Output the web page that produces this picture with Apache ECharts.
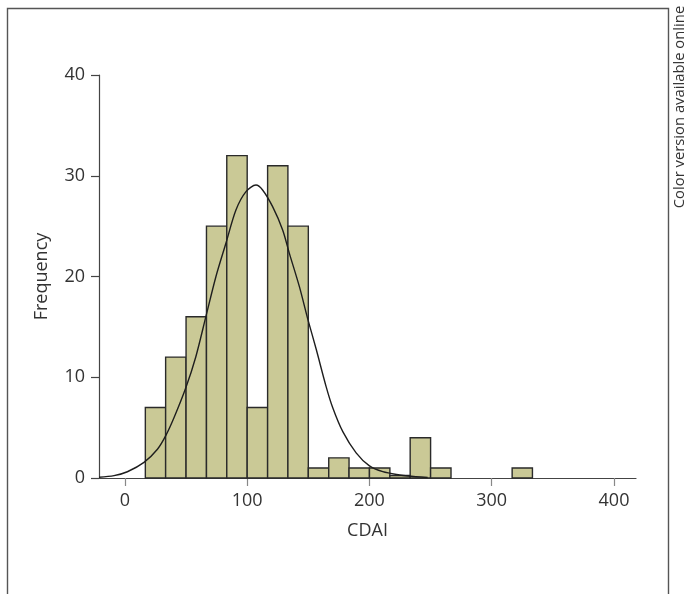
<!DOCTYPE html>
<html>
<head>
<meta charset="utf-8">
<script src="https://cdn.jsdelivr.net/npm/echarts@6/dist/echarts.min.js"></script>
<style>
  html, body { margin: 0; padding: 0; background: #fff; }
</style>
</head>
<body>
<div id="main" style="width: 686px; height: 594px"></div>
<script>
// histogram bins (CDAI), bin width 50/3
const binStarts = [16.7, 33.3, 50, 66.7, 83.3, 100, 116.7, 133.3, 150, 166.7, 183.3, 200, 216.7, 233.3, 250, 266.7, 283.3, 300, 316.7]
const binEnds = [33.3, 50, 66.7, 83.3, 100, 116.7, 133.3, 150, 166.7, 183.3, 200, 216.7, 233.3, 250, 266.7, 283.3, 300, 316.7, 333.3]
const counts = [7, 12, 16, 25, 32, 7, 31, 25, 1, 2, 1, 1, 0.25, 4, 1, 0, 0, 0, 1]

// fitted curve
const curveX = [-21.2, -8.9, 2.0, 15.6, 26.6, 33.4, 40.2, 49.8, 58.0, 66.2, 74.4, 82.6, 90.8, 99.0, 107.2, 112.6, 120.8, 129.0, 134.5, 142.7, 149.5, 156.4, 164.5, 169.9, 178.2, 189.1, 200.0, 210.9, 224.6, 231.4, 247.6]
const curveY = [0.07, 0.23, 0.62, 1.55, 2.85, 4.2, 6.0, 8.95, 12.04, 16.01, 19.98, 23.3, 26.6, 28.42, 29.08, 28.59, 26.93, 24.62, 22.3, 18.99, 15.8, 12.8, 9.1, 7.0, 4.6, 2.5, 1.2, 0.63, 0.3, 0.2, 0.05]

const xTicks = [0, 100, 200, 300, 400]
const yTicks = [0, 10, 20, 30, 40]

const myChart = echarts.init(document.getElementById('main'))

const barData = counts.map((c, i) => [binStarts[i], binEnds[i], c]).filter(d => d[2] > 0)
const lineData = curveX.map((x, i) => [x, curveY[i]])

const font = '"Open Sans", "DejaVu Sans", sans-serif'

const option = {
  animation: false,
  backgroundColor: '#fff',
  grid: {
    left: 99,
    right: 50,
    top: 75,
    bottom: 116
  },
  xAxis: {
    type: 'value',
    min: -21.2,
    max: 418,
    name: 'CDAI',
    nameLocation: 'middle',
    nameGap: 53,
    nameTextStyle: { fontFamily: font, fontSize: 18, color: '#333', verticalAlign: 'middle' },
    splitLine: { show: false },
    axisLine: { onZero: false, lineStyle: { color: '#444', width: 1.2 } },
    axisTick: {
      length: 8,
      lineStyle: { color: '#888', width: 1.2 },
      customValues: xTicks
    },
    axisLabel: {
      fontFamily: font,
      fontSize: 18,
      color: '#333',
      margin: 14,
      customValues: xTicks
    }
  },
  yAxis: {
    type: 'value',
    min: 0,
    max: 40,
    interval: 10,
    name: 'Frequency',
    nameLocation: 'middle',
    nameGap: 57,
    nameRotate: 90,
    nameTextStyle: { fontFamily: font, fontSize: 18, color: '#333', verticalAlign: 'middle' },
    splitLine: { show: false },
    axisLine: { show: true, onZero: false, lineStyle: { color: '#444', width: 1.2 } },
    axisTick: { show: true, length: 8, lineStyle: { color: '#444', width: 1.2 } },
    axisLabel: {
      fontFamily: font,
      fontSize: 18,
      color: '#333',
      margin: 14,
      customValues: yTicks
    }
  },
  series: [
    {
      type: 'custom',
      data: barData,
      z: 2,
      renderItem: function (params, api) {
        const p0 = api.coord([api.value(0), 0])
        const p1 = api.coord([api.value(1), api.value(2)])
        return {
          type: 'rect',
          shape: { x: p0[0], y: p1[1], width: p1[0] - p0[0], height: p0[1] - p1[1] },
          style: { fill: '#cac996', stroke: '#2a2a2a', lineWidth: 1.4 }
        }
      }
    },
    {
      type: 'line',
      data: lineData,
      z: 5,
      smooth: 0.3,
      symbol: 'none',
      lineStyle: { color: '#1e1e1e', width: 1.4 }
    }
  ],
  graphic: [
    {
      type: 'rect',
      shape: { x: 7.5, y: 8.5, width: 661, height: 620 },
      style: { fill: null, stroke: '#555', lineWidth: 1.4 },
      silent: true
    },
    {
      type: 'text',
      x: 680,
      y: 107,
      rotation: Math.PI / 2,
      style: {
        text: 'Color version available online',
        fontFamily: font,
        fontSize: 14.8,
        fill: '#333',
        align: 'center',
        verticalAlign: 'middle'
      }
    }
  ]
}

myChart.setOption(option)
</script>
</body>
</html>
